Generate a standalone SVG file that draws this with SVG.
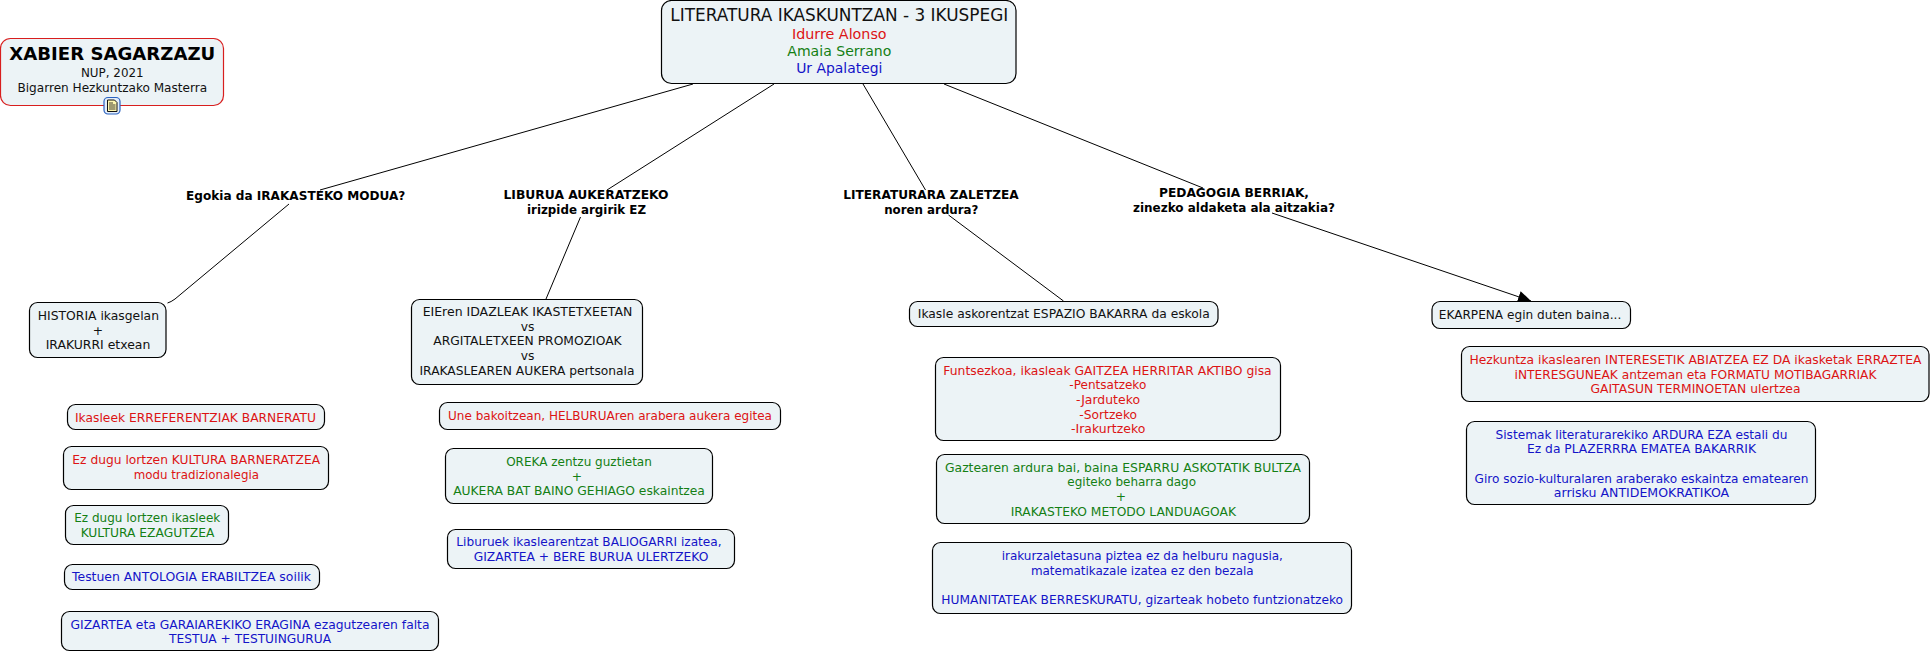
<svg xmlns="http://www.w3.org/2000/svg" width="1931" height="653" viewBox="0 0 1931 653">
<defs>
<style>
text{font-family:"DejaVu Sans",Verdana,sans-serif;font-size:12.300px;text-anchor:middle;fill:#111}
.box{fill:#ecf3f6;stroke:#000;stroke-width:1.2}
.r{fill:#dc1414}.g{fill:#147f14}.b{fill:#1414c8}
.l{font-weight:bold;fill:#000;font-size:12.200px}
.t{font-size:17px}.n{font-size:14.500px}
#connectors path{fill:none;stroke:#000;stroke-width:1}
</style>
<marker id="arrow" markerWidth="14" markerHeight="14" refX="13" refY="6" orient="auto" markerUnits="userSpaceOnUse"><path d="M0,0L13,6L0,12z" fill="#000"/></marker>
</defs>
<rect width="1931" height="653" fill="#fff"/>
<g id="connectors">
<path d="M693,84L320,190"/>
<path d="M289,204L175,299Q171,302 167.500,303"/>
<path d="M774,84L607,190"/>
<path d="M580.500,217L546,299"/>
<path d="M863,84L925.500,190"/>
<path d="M948.500,215L1063.500,301"/>
<path d="M944,84L1203,188"/>
<path d="M1272,213L1531,301" marker-end="url(#arrow)"/>
</g>
<g id="author"><rect class="box" style="stroke:#d81e1e" x="0.500" y="38.500" width="223" height="67" rx="10"/>
<text x="112.300" y="60" textLength="206" lengthAdjust="spacingAndGlyphs" style="font-size:18.200px;font-weight:bold;fill:#000">XABIER SAGARZAZU</text><text x="112.300" y="77" textLength="62.700" lengthAdjust="spacingAndGlyphs">NUP, 2021</text><text x="112.300" y="91.500" textLength="189.700" lengthAdjust="spacingAndGlyphs">Bigarren Hezkuntzako Masterra</text></g>
<g id="note-icon"><rect x="104" y="97.500" width="16" height="16.500" rx="4" fill="#e4eefa" stroke="#2a62c0" stroke-width="1.200"/><path d="M107.500,100H114.500L117,102.500V111.500H107.500Z" fill="#fdf6b0" stroke="#111" stroke-width="1"/><path d="M109,103h4M109,105h6.500M109,107h6.500M109,109h6.500" stroke="#111" stroke-width="0.800"/></g>
<g id="root"><rect class="box" x="661.500" y="0.500" width="354.500" height="83" rx="10"/>
<text class="t" x="839.300" y="21" textLength="338" lengthAdjust="spacingAndGlyphs">LITERATURA IKASKUNTZAN - 3 IKUSPEGI</text><text x="839.300" y="39" class="r n" textLength="94.700" lengthAdjust="spacingAndGlyphs">Idurre Alonso</text><text x="839.300" y="55.500" class="g n" textLength="104" lengthAdjust="spacingAndGlyphs">Amaia Serrano</text><text x="839.300" y="72.500" class="b n" textLength="86.300" lengthAdjust="spacingAndGlyphs">Ur Apalategi</text></g>
<g id="q1"><text class="l" x="295.700" y="200" textLength="219.300" lengthAdjust="spacingAndGlyphs">Egokia da IRAKASTEKO MODUA?</text></g>
<g id="q2"><text class="l" x="586" y="199" textLength="165" lengthAdjust="spacingAndGlyphs">LIBURUA AUKERATZEKO</text><text class="l" x="586.500" y="213.700" textLength="119" lengthAdjust="spacingAndGlyphs">irizpide argirik EZ</text></g>
<g id="q3"><text class="l" x="931" y="199" textLength="175.500" lengthAdjust="spacingAndGlyphs">LITERATURARA ZALETZEA</text><text class="l" x="931.300" y="213.700" textLength="94.300" lengthAdjust="spacingAndGlyphs">noren ardura?</text></g>
<g id="q4"><text class="l" x="1234" y="197" textLength="150" lengthAdjust="spacingAndGlyphs">PEDAGOGIA BERRIAK,</text><text class="l" x="1234" y="211.700" textLength="202" lengthAdjust="spacingAndGlyphs">zinezko aldaketa ala aitzakia?</text></g>
<g id="historia"><rect class="box" x="29.500" y="302.500" width="136.500" height="55" rx="8"/><text x="98.400" y="320" textLength="121.200" lengthAdjust="spacingAndGlyphs">HISTORIA ikasgelan</text><text x="98" y="334.700">+</text><text x="98" y="349.300" textLength="104.700" lengthAdjust="spacingAndGlyphs">IRAKURRI etxean</text></g>
<g id="eieren"><rect class="box" x="411.500" y="299.500" width="231" height="85" rx="8"/><text x="527.500" y="316" textLength="209.700" lengthAdjust="spacingAndGlyphs">EIEren IDAZLEAK IKASTETXEETAN</text><text x="527.500" y="330.700">vs</text><text x="527.500" y="345.300" textLength="188.300" lengthAdjust="spacingAndGlyphs">ARGITALETXEEN PROMOZIOAK</text><text x="527.500" y="360">vs</text><text x="527" y="374.700" textLength="215" lengthAdjust="spacingAndGlyphs">IRAKASLEAREN AUKERA pertsonala</text></g>
<g id="ikasle"><rect class="box" x="909.500" y="301.500" width="308.500" height="25" rx="8"/><text x="1063.800" y="318" textLength="292" lengthAdjust="spacingAndGlyphs">Ikasle askorentzat ESPAZIO BAKARRA da eskola</text></g>
<g id="ekarpena"><rect class="box" x="1432" y="301.500" width="198.500" height="27" rx="8"/><text x="1530" y="318.500" textLength="182.500" lengthAdjust="spacingAndGlyphs">EKARPENA egin duten baina...</text></g>
<g id="a1"><rect class="box" x="67.500" y="404.500" width="257" height="25" rx="8"/><text class="r" x="195.500" y="421.500" textLength="241" lengthAdjust="spacingAndGlyphs">Ikasleek ERREFERENTZIAK BARNERATU</text></g>
<g id="a2"><rect class="box" x="63.500" y="446.500" width="265" height="43" rx="8"/><text class="r" x="196.200" y="464" textLength="247.700" lengthAdjust="spacingAndGlyphs">Ez dugu lortzen KULTURA BARNERATZEA</text><text class="r" x="196.300" y="478.700" textLength="125.300" lengthAdjust="spacingAndGlyphs">modu tradizionalegia</text></g>
<g id="a3"><rect class="box" x="65.500" y="505.500" width="163" height="39" rx="8"/><text class="g" x="147.300" y="522" textLength="146" lengthAdjust="spacingAndGlyphs">Ez dugu lortzen ikasleek</text><text class="g" x="147.500" y="536.700" textLength="133.700" lengthAdjust="spacingAndGlyphs">KULTURA EZAGUTZEA</text></g>
<g id="a4"><rect class="box" x="64.500" y="564.500" width="255" height="25" rx="8"/><text class="b" x="191.500" y="581" textLength="239" lengthAdjust="spacingAndGlyphs">Testuen ANTOLOGIA ERABILTZEA soilik</text></g>
<g id="a5"><rect class="box" x="61.500" y="611.500" width="377" height="39" rx="8"/><text class="b" x="250" y="628.500" textLength="359" lengthAdjust="spacingAndGlyphs">GIZARTEA eta GARAIAREKIKO ERAGINA ezagutzearen falta</text><text class="b" x="250" y="643" textLength="162" lengthAdjust="spacingAndGlyphs">TESTUA + TESTUINGURUA</text></g>
<g id="b1"><rect class="box" x="439.500" y="402.500" width="341" height="27" rx="8"/><text class="r" x="610" y="419.500" textLength="324" lengthAdjust="spacingAndGlyphs">Une bakoitzean, HELBURUAren arabera aukera egitea</text></g>
<g id="b2"><rect class="box" x="445.500" y="448.500" width="267" height="55" rx="8"/><text class="g" x="579" y="466" textLength="145.700" lengthAdjust="spacingAndGlyphs">OREKA zentzu guztietan</text><text class="g" x="577" y="480.700">+</text><text class="g" x="579" y="495.300" textLength="251.700" lengthAdjust="spacingAndGlyphs">AUKERA BAT BAINO GEHIAGO eskaintzea</text></g>
<g id="b3"><rect class="box" x="447.500" y="529.500" width="287" height="39" rx="8"/><text class="b" x="589" y="546" textLength="265.300" lengthAdjust="spacingAndGlyphs">Liburuek ikaslearentzat BALIOGARRI izatea,</text><text class="b" x="591" y="560.700" textLength="234.700" lengthAdjust="spacingAndGlyphs">GIZARTEA + BERE BURUA ULERTZEKO</text></g>
<g id="c1"><rect class="box" x="935.500" y="357.500" width="345" height="83" rx="8"/><text class="r" x="1107.500" y="374.500" textLength="328.300" lengthAdjust="spacingAndGlyphs">Funtsezkoa, ikasleak GAITZEA HERRITAR AKTIBO gisa</text><text class="r" x="1107.800" y="389.200" textLength="77" lengthAdjust="spacingAndGlyphs">-Pentsatzeko</text><text class="r" x="1108" y="403.800" textLength="64" lengthAdjust="spacingAndGlyphs">-Jarduteko</text><text class="r" x="1108.200" y="418.500" textLength="57.700" lengthAdjust="spacingAndGlyphs">-Sortzeko</text><text class="r" x="1108.200" y="433.200" textLength="74.300" lengthAdjust="spacingAndGlyphs">-Irakurtzeko</text></g>
<g id="c2"><rect class="box" x="936.500" y="454.500" width="373" height="69" rx="8"/><text class="g" x="1123" y="471.500" textLength="356" lengthAdjust="spacingAndGlyphs">Gaztearen ardura bai, baina ESPARRU ASKOTATIK BULTZA</text><text class="g" x="1131.700" y="486.200" textLength="128.700" lengthAdjust="spacingAndGlyphs">egiteko beharra dago</text><text class="g" x="1121" y="500.800">+</text><text class="g" x="1123.300" y="515.500" textLength="225.300" lengthAdjust="spacingAndGlyphs">IRAKASTEKO METODO LANDUAGOAK</text></g>
<g id="c3"><rect class="box" x="932.500" y="542.500" width="419" height="71" rx="8"/><text class="b" x="1142.300" y="560" textLength="281.300" lengthAdjust="spacingAndGlyphs">irakurzaletasuna piztea ez da helburu nagusia,</text><text class="b" x="1142.300" y="574.700" textLength="222.700" lengthAdjust="spacingAndGlyphs">matematikazale izatea ez den bezala</text><text class="b" x="1142.200" y="604" textLength="401.700" lengthAdjust="spacingAndGlyphs">HUMANITATEAK BERRESKURATU, gizarteak hobeto funtzionatzeko</text></g>
<g id="d1"><rect class="box" x="1461.500" y="346.500" width="467.500" height="55" rx="8"/><text class="r" x="1695.500" y="364" textLength="452" lengthAdjust="spacingAndGlyphs">Hezkuntza ikaslearen INTERESETIK ABIATZEA EZ DA ikasketak ERRAZTEA</text><text class="r" x="1695.500" y="378.700" textLength="362" lengthAdjust="spacingAndGlyphs">iNTERESGUNEAK antzeman eta FORMATU MOTIBAGARRIAK</text><text class="r" x="1695.500" y="393.300" textLength="210" lengthAdjust="spacingAndGlyphs">GAITASUN TERMINOETAN ulertzea</text></g>
<g id="d2"><rect class="box" x="1466.500" y="421.500" width="349" height="83" rx="8"/><text class="b" x="1641.500" y="438.500" textLength="292" lengthAdjust="spacingAndGlyphs">Sistemak literaturarekiko ARDURA EZA estali du</text><text class="b" x="1641.500" y="453.200" textLength="229" lengthAdjust="spacingAndGlyphs">Ez da PLAZERRRA EMATEA BAKARRIK</text><text class="b" x="1641.500" y="482.500" textLength="333.800" lengthAdjust="spacingAndGlyphs">Giro sozio-kulturalaren araberako eskaintza ematearen</text><text class="b" x="1641.500" y="497.200" textLength="175.400" lengthAdjust="spacingAndGlyphs">arrisku ANTIDEMOKRATIKOA</text></g>
</svg>
